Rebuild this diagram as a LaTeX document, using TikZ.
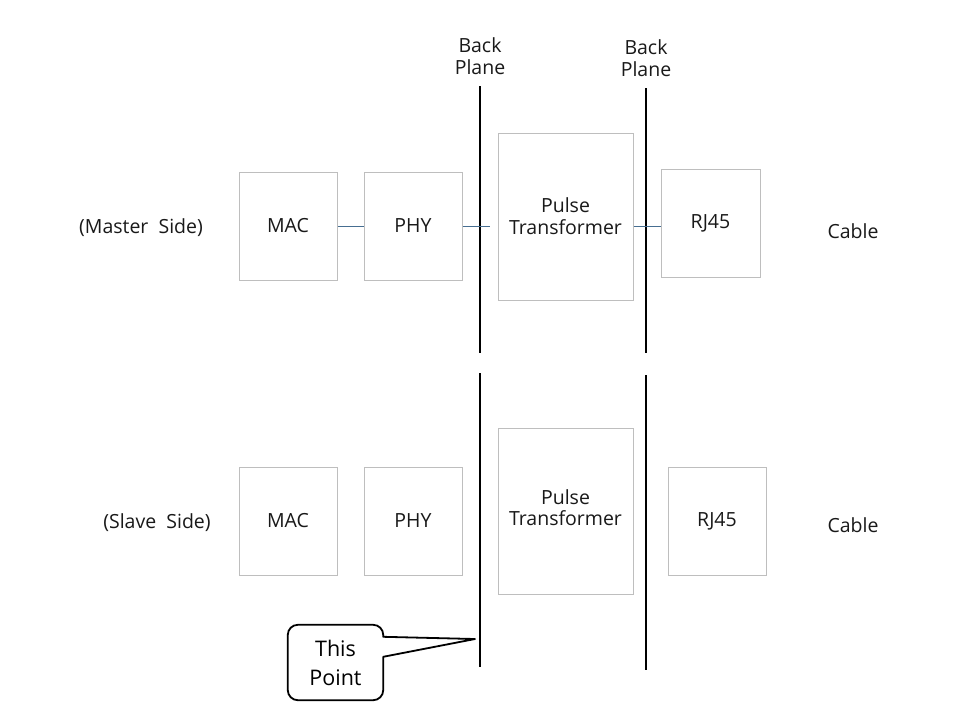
\documentclass[tikz,border=0pt]{standalone}
\usepackage{fontspec}
\setmainfont{Open Sans}
\usepackage{xcolor}
\usepackage{tikz}
\usetikzlibrary{calc}
\definecolor{BoxGray}{RGB}{190, 190, 190}
\definecolor{LinkBlue}{RGB}{70, 110, 145}
\definecolor{TextDark}{RGB}{25, 25, 25}

\tikzset{
  blockbox/.style={draw=BoxGray, line width=1pt, fill=white, align=center,
    text=TextDark, font=\fontsize{19.5}{22}\selectfont, inner sep=0pt},
  plainlabel/.style={align=center, text=TextDark, font=\fontsize{19.5}{22}\selectfont, inner sep=0pt},
  link/.style={draw=LinkBlue, line width=0.8pt},
  backplane/.style={draw=black, line width=1.4pt},
}

\begin{document}
\begin{tikzpicture}[x=1pt, y=-1pt]
  \useasboundingbox (0,0) rectangle (960,720);

  % back plane lines
  \coordinate (bpAtop) at (480,86);  \coordinate (bpAmid) at (480,353);
  \coordinate (bpAlow) at (480,373); \coordinate (bpAbot) at (480,667);
  \coordinate (bpBtop) at (646,88);  \coordinate (bpBmid) at (646,353);
  \coordinate (bpBlow) at (646,375); \coordinate (bpBbot) at (646,670);
  \draw[backplane] (bpAtop) -- (bpAmid);
  \draw[backplane] (bpAlow) -- (bpAbot);
  \draw[backplane] (bpBtop) -- (bpBmid);
  \draw[backplane] (bpBlow) -- (bpBbot);
  \node[plainlabel, above=11pt] (bpAlabel) at (bpAtop) {Back\\Plane};
  \node[plainlabel, above=11pt] (bpBlabel) at (bpBtop) {Back\\Plane};

  % master side
  \node[plainlabel] (master) at (141,228) {(Master~ Side)};
  \node[blockbox, minimum width=98pt, minimum height=108pt] (mac1) at (288,226) {\raisebox{1.5pt}{MAC}};
  \node[blockbox, minimum width=98pt, minimum height=108pt] (phy1) at (413,226) {\raisebox{1.5pt}{PHY}};
  \node[blockbox, minimum width=135pt, minimum height=167pt] (pulse1) at (565.5,216.5) {Pulse\\Transformer};
  \node[blockbox, minimum width=99pt, minimum height=108pt] (rj1) at (710.5,223) {RJ45};
  \node[plainlabel] (cable1) at (853,231) {Cable};
  \coordinate (pulse1in) at (490,226);

  \draw[link] (mac1) -- (phy1);
  \draw[link] (phy1.east) -- (pulse1in);
  \draw[link] (pulse1.east |- 0,226) -- (rj1.west |- 0,226);

  % slave side
  \node[plainlabel] (slave) at (157,523) {(Slave~ Side)};
  \node[blockbox, minimum width=98pt, minimum height=108pt] (mac2) at (288,521) {\raisebox{1.5pt}{MAC}};
  \node[blockbox, minimum width=98pt, minimum height=108pt] (phy2) at (413,521) {\raisebox{1.5pt}{PHY}};
  \node[blockbox, minimum width=135pt, minimum height=166pt] (pulse2) at (565.5,511) {\raisebox{2pt}{\begin{tabular}{@{}c@{}}Pulse\\[-1pt]Transformer\end{tabular}}};
  \node[blockbox, minimum width=98pt, minimum height=108pt] (rj2) at (717,521) {RJ45};
  \node[plainlabel] (cable2) at (853,525) {Cable};

  % callout
  \coordinate (tip) at (475,639);
  \node[plainlabel, minimum width=95pt, minimum height=75pt, text=black,
        font=\fontsize{21.5}{29}\selectfont] (thispt) at (335.5,662.5) {This\\Point};
  \draw[line width=1.8pt, line join=round]
    (tip) -- ($(thispt.north east)+(0,32)$)
    [rounded corners=10pt] -- (thispt.south east) -- (thispt.south west)
    -- (thispt.north west) -- (thispt.north east)
    [sharp corners] -- ($(thispt.north east)+(0,12)$) -- cycle;
\end{tikzpicture}
\end{document}
